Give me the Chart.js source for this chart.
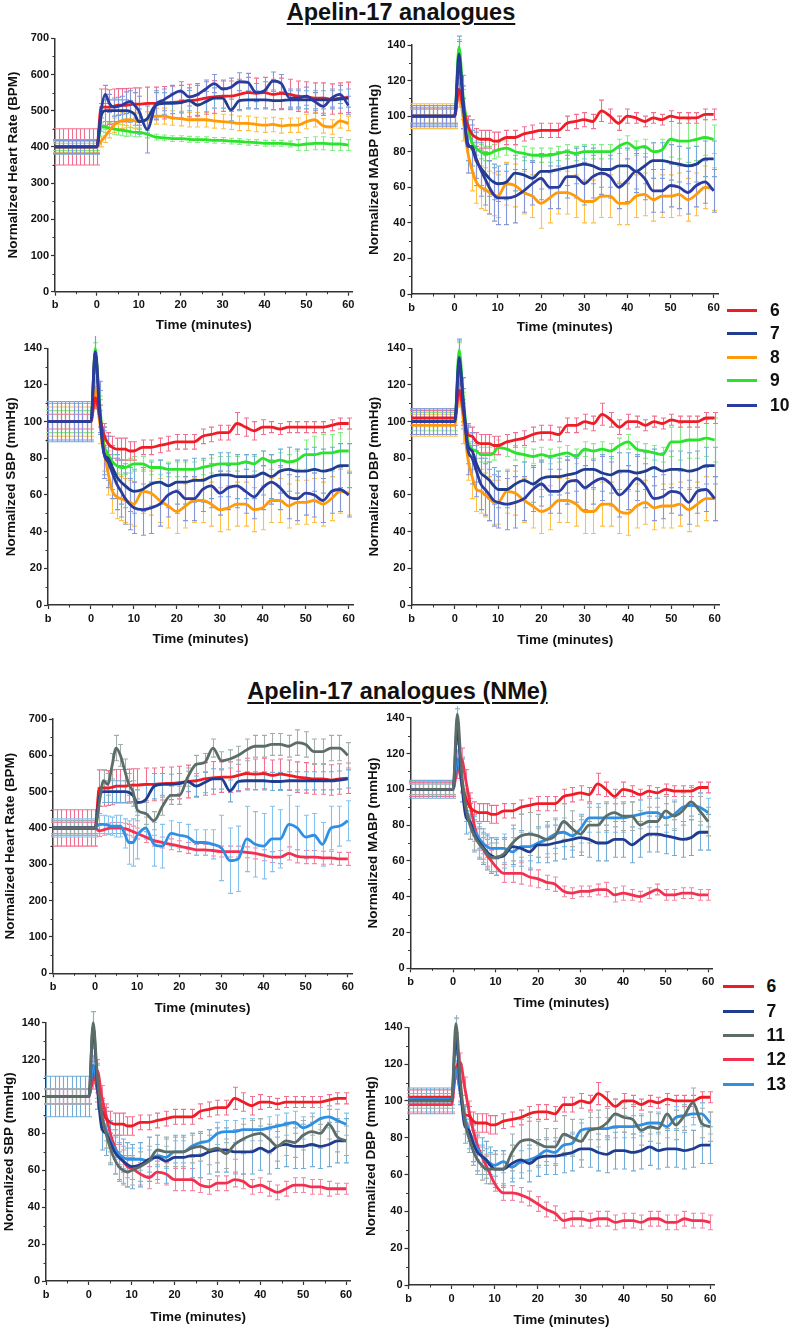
<!DOCTYPE html>
<html>
<head>
<meta charset="utf-8">
<script src="https://cdn.jsdelivr.net/npm/chart.js@4.4.1/dist/chart.umd.min.js"></script>
<style>
  body { margin: 0; background: #fff; }
  #wrap { position: relative; width: 792px; height: 1327px; overflow: hidden; font-family: 'Liberation Sans', Arial, sans-serif; color: #111; }
  canvas { position: absolute; }
  .ttl { position: absolute; font-weight: bold; font-size: 23.5px; line-height: 23.5px; white-space: nowrap;
         text-decoration: underline; text-decoration-thickness: 2px; text-underline-offset: 3px; transform: translateX(-50%); }
  .lg { position: absolute; height: 24px; display: flex; align-items: center; font-weight: bold; font-size: 17.5px; }
  .lg span.sw { display: inline-block; height: 3px; }
</style>
</head>
<body>
<div id="wrap">
  <div class="ttl" style="left:401px; top:0.5px;">Apelin-17 analogues</div>
  <div class="ttl" style="left:397.5px; top:679.5px;">Apelin-17 analogues (NMe)</div>
</div>
<script>
// time points (minutes); -10 is the baseline "b"
var T = [-10, 0, 1, 2, 3, 4, 5, 6, 7, 8, 9, 10,
  12, 14, 16, 18, 20, 22, 24, 26, 28, 30,
  32, 34, 36, 38, 40, 42, 44, 46, 48, 50,
  52, 54, 56, 58, 60];
var baseTimes = [-10, -9, -8, -7, -6, -5, -4, -3, -2, -1];
var xTicks = [-10, 0, 10, 20, 30, 40, 50, 60];
var hrTicks = [0, 100, 200, 300, 400, 500, 600, 700];
var bpTicks = [0, 20, 40, 60, 80, 100, 120, 140];

var legend1 = ['6', '7', '8', '9', '10'];
var legend2 = ['6', '7', '11', '12', '13'];

// ---- Heart rate (BPM) ----
var hr6 = [400, 400, 510, 510, 510, 512, 515, 515, 515, 517, 518, 518,
  520, 520, 522, 523, 525, 528, 530, 535, 538, 540,
  540, 545, 550, 548, 550, 545, 548, 545, 540, 538,
  535, 535, 532, 535, 537];
var hr6e = [50, 50, 50, 50, 48, 48, 46, 46, 46, 45, 45, 45,
  45, 45, 45, 45, 45, 45, 45, 45, 45, 42,
  42, 42, 42, 42, 42, 42, 42, 42, 42, 42,
  42, 42, 42, 42, 42];
var hr7 = [400, 400, 485, 500, 500, 500, 500, 500, 500, 498, 490, 470,
  478, 515, 520, 520, 522, 528, 515, 525, 535, 535,
  502, 528, 530, 530, 530, 528, 528, 530, 530, 530,
  530, 530, 530, 532, 535];
var hr7e = [20, 20, 25, 30, 30, 30, 30, 30, 30, 30, 30, 35,
  40, 35, 30, 28, 28, 28, 28, 28, 28, 28,
  30, 28, 25, 25, 25, 25, 25, 25, 25, 25,
  25, 25, 25, 25, 25];
var hr8 = [400, 400, 415, 430, 445, 460, 468, 473, 475, 475, 472, 470,
  475, 485, 485, 480, 478, 475, 475, 475, 472, 470,
  468, 465, 465, 462, 460, 462, 458, 460, 460, 470,
  475, 458, 455, 472, 465];
var hr8e = [15, 15, 15, 18, 20, 20, 20, 22, 22, 22, 22, 22,
  22, 22, 22, 20, 20, 20, 20, 20, 20, 20,
  20, 20, 20, 20, 20, 20, 20, 20, 20, 20,
  20, 20, 20, 20, 20];
var hr9 = [400, 400, 455, 455, 452, 450, 448, 446, 444, 442, 440, 440,
  435, 427, 425, 423, 423, 421, 420, 420, 418, 418,
  416, 415, 413, 412, 410, 410, 410, 408, 405, 408,
  410, 410, 408, 408, 405];
var hr9e = [10, 10, 12, 15, 15, 15, 15, 15, 15, 12, 12, 12,
  10, 8, 8, 8, 8, 8, 8, 8, 8, 8,
  8, 8, 8, 8, 8, 8, 8, 8, 15, 18,
  18, 18, 18, 18, 15];
var hr10 = [400, 400, 500, 545, 520, 510, 512, 515, 522, 525, 515, 500,
  448, 515, 530, 545, 555, 538, 545, 560, 575, 560,
  565, 580, 578, 550, 555, 582, 575, 535, 535, 540,
  525, 512, 535, 545, 515];
var hr10e = [18, 18, 20, 25, 25, 25, 25, 25, 30, 30, 35, 40,
  65, 40, 30, 25, 25, 25, 25, 25, 25, 25,
  25, 25, 25, 25, 25, 25, 25, 25, 25, 25,
  25, 25, 25, 25, 25];
var hr11 = [400, 400, 470, 530, 520, 570, 620, 600, 560, 520, 500, 450,
  440, 420, 460, 490, 490, 540, 575, 580, 620, 585,
  590, 600, 615, 625, 625, 630, 630, 625, 635, 630,
  610, 610, 620, 620, 600];
var hr11e = [20, 20, 30, 30, 30, 35, 35, 30, 30, 30, 30, 30,
  30, 25, 25, 25, 25, 25, 25, 25, 25, 25,
  25, 25, 30, 30, 30, 30, 30, 30, 35, 35,
  35, 35, 35, 35, 35];
var hr12 = [400, 400, 392, 395, 398, 400, 400, 400, 398, 395, 390, 385,
  375, 365, 360, 355, 350, 345, 340, 340, 338, 335,
  335, 335, 333, 330, 325, 320, 320, 330, 322, 320,
  320, 318, 318, 315, 315];
var hr12e = [15, 15, 15, 15, 15, 15, 15, 15, 15, 15, 15, 15,
  15, 15, 15, 15, 15, 15, 15, 15, 15, 15,
  15, 15, 15, 15, 15, 15, 18, 18, 18, 18,
  18, 18, 18, 18, 18];
var hr13 = [400, 400, 410, 410, 408, 405, 405, 405, 385, 360, 360, 380,
  400, 355, 350, 385, 380, 375, 360, 360, 355, 345,
  310, 315, 370, 355, 350, 370, 370, 410, 400, 375,
  380, 355, 400, 405, 420];
var hr13e = [25, 25, 25, 25, 25, 25, 30, 30, 40, 60, 65, 65,
  30, 60, 60, 35, 35, 35, 35, 35, 40, 90,
  90, 90, 90, 90, 90, 90, 80, 80, 60, 60,
  60, 60, 60, 55, 55];

// ---- MABP (mmHg) ----
var m6 = [100, 100, 115, 104, 95, 90, 88, 87, 87, 87, 86, 86,
  88, 88, 90, 91, 92, 92, 92, 96, 97, 98,
  97, 103, 100, 96, 100, 99, 97, 99, 98, 100,
  99, 99, 99, 101, 101];
var m6e = [4, 4, 6, 6, 5, 5, 5, 5, 5, 5, 5, 5,
  4, 4, 4, 4, 4, 4, 4, 4, 4, 4,
  4, 6, 4, 4, 4, 3, 3, 3, 3, 3,
  3, 3, 3, 3, 3];
var m7 = [100, 100, 135, 105, 85, 82, 75, 71, 68, 65, 63, 62,
  63, 68, 67, 65, 69, 69, 70, 71, 72, 73,
  72, 70, 70, 72, 72, 69, 72, 75, 75, 74,
  73, 72, 73, 76, 76];
var m7e = [5, 5, 10, 12, 10, 10, 10, 10, 10, 10, 10, 10,
  10, 10, 10, 10, 10, 10, 10, 10, 10, 10,
  10, 10, 10, 10, 10, 10, 10, 10, 10, 10,
  10, 10, 10, 10, 10];
var m8 = [100, 100, 115, 98, 80, 70, 63, 60, 59, 57, 56, 55,
  62, 61, 57, 55, 51, 54, 57, 57, 55, 52,
  52, 55, 55, 51, 51, 55, 56, 53, 55, 55,
  56, 53, 56, 60, 59];
var m8e = [7, 7, 10, 12, 12, 12, 12, 12, 12, 12, 12, 12,
  12, 12, 12, 12, 14, 14, 12, 12, 12, 12,
  12, 12, 12, 12, 12, 12, 12, 12, 12, 12,
  12, 12, 12, 12, 12];
var m9 = [100, 100, 139, 110, 95, 85, 82, 80, 79, 79, 80, 81,
  82, 80, 79, 78, 78, 78, 79, 80, 79, 80,
  80, 80, 80, 83, 85, 82, 83, 80, 81, 87,
  86, 86, 87, 88, 87];
var m9e = [4, 4, 4, 5, 5, 4, 4, 4, 4, 4, 4, 4,
  4, 4, 4, 4, 4, 4, 4, 4, 4, 4,
  4, 4, 4, 4, 4, 4, 4, 5, 6, 10,
  10, 12, 12, 10, 8];
var m10 = [100, 100, 130, 108, 83, 83, 76, 70, 65, 60, 56, 54,
  54, 55, 58, 62, 65, 60, 60, 66, 66, 62,
  66, 68, 66, 60, 64, 69, 65, 58, 58, 61,
  60, 57, 61, 63, 58];
var m10e = [6, 6, 12, 15, 15, 15, 15, 15, 15, 15, 15, 15,
  15, 15, 12, 12, 12, 12, 12, 12, 12, 12,
  12, 12, 12, 12, 12, 12, 12, 12, 12, 12,
  12, 12, 12, 12, 12];
var m11 = [100, 100, 142, 110, 90, 80, 74, 70, 67, 64, 62, 62,
  64, 70, 74, 75, 74, 72, 74, 82, 78, 75,
  80, 80, 85, 87, 85, 85, 80, 82, 82, 88,
  85, 88, 93, 88, 82];
var m11e = [3, 3, 5, 8, 8, 8, 8, 8, 8, 8, 8, 8,
  8, 10, 12, 12, 12, 10, 10, 10, 10, 10,
  10, 10, 8, 8, 8, 8, 8, 8, 8, 8,
  8, 8, 8, 8, 8];
var m12 = [100, 100, 112, 117, 105, 92, 80, 72, 67, 63, 60, 57,
  53, 53, 53, 51, 50, 48, 47, 43, 42, 43,
  43, 44, 44, 41, 42, 41, 40, 42, 44, 41,
  41, 42, 42, 41, 41];
var m12e = [4, 4, 6, 6, 6, 6, 6, 6, 6, 6, 6, 5,
  5, 5, 6, 5, 5, 4, 4, 3, 3, 3,
  3, 3, 4, 4, 4, 3, 3, 3, 3, 3,
  3, 3, 3, 3, 3];
var m13 = [100, 100, 117, 105, 90, 82, 77, 73, 70, 68, 67, 67,
  67, 65, 68, 68, 70, 72, 75, 76, 74, 78,
  84, 84, 84, 84, 84, 85, 86, 87, 87, 84,
  86, 90, 91, 90, 87];
var m13e = [3, 3, 5, 6, 6, 6, 6, 6, 6, 6, 6, 6,
  8, 8, 8, 8, 8, 8, 8, 8, 8, 8,
  8, 8, 8, 8, 8, 8, 8, 8, 8, 8,
  8, 8, 8, 8, 8];

// ---- SBP (mmHg) ----
var s6 = [100, 100, 113, 103, 93, 88, 86, 85, 85, 85, 84, 84,
  86, 86, 87, 88, 89, 89, 89, 92, 93, 94,
  94, 99, 97, 95, 97, 97, 96, 97, 97, 97,
  97, 97, 98, 99, 99];
var s6e = [4, 4, 6, 6, 6, 6, 6, 6, 6, 6, 5, 5,
  4, 4, 4, 4, 4, 4, 4, 4, 4, 4,
  4, 6, 5, 5, 4, 3, 3, 3, 3, 3,
  3, 3, 3, 3, 3];
var s7 = [100, 100, 138, 105, 83, 80, 75, 70, 67, 65, 63, 62,
  63, 66, 67, 65, 67, 67, 68, 68, 70, 71,
  71, 70, 70, 70, 72, 70, 73, 74, 73, 73,
  74, 73, 74, 76, 76];
var s7e = [11, 11, 12, 12, 12, 12, 12, 12, 12, 12, 12, 12,
  12, 12, 12, 12, 12, 12, 12, 12, 12, 12,
  12, 12, 12, 12, 12, 12, 12, 12, 12, 12,
  12, 12, 12, 12, 12];
var s8 = [100, 100, 118, 100, 85, 72, 62, 59, 58, 57, 56, 55,
  62, 61, 57, 54, 51, 54, 57, 57, 55, 52,
  53, 55, 55, 52, 53, 57, 57, 54, 56, 56,
  57, 55, 58, 62, 61];
var s8e = [8, 8, 10, 12, 12, 12, 12, 12, 12, 12, 12, 12,
  12, 12, 12, 12, 12, 12, 12, 12, 12, 12,
  12, 12, 12, 12, 12, 12, 12, 12, 12, 12,
  12, 12, 12, 12, 12];
var s9 = [100, 100, 140, 110, 88, 82, 78, 76, 75, 75, 76, 77,
  77, 75, 75, 74, 74, 74, 74, 75, 76, 77,
  77, 77, 78, 77, 80, 78, 79, 78, 79, 82,
  82, 83, 83, 84, 84];
var s9e = [6, 6, 3, 4, 4, 4, 4, 4, 4, 4, 4, 4,
  4, 4, 4, 4, 4, 4, 4, 4, 4, 4,
  4, 4, 4, 4, 4, 4, 4, 4, 5, 8,
  10, 10, 10, 10, 12];
var s10 = [100, 100, 138, 108, 83, 78, 72, 66, 62, 58, 55, 53,
  52, 53, 55, 60, 62, 58, 58, 63, 65, 61,
  64, 65, 62, 59, 64, 67, 64, 59, 58, 61,
  60, 57, 62, 63, 60];
var s10e = [10, 10, 12, 14, 14, 14, 14, 14, 14, 14, 14, 14,
  14, 14, 12, 12, 12, 12, 12, 12, 12, 12,
  12, 12, 12, 12, 12, 12, 12, 12, 12, 12,
  12, 12, 12, 12, 12];
var s11 = [100, 100, 140, 110, 90, 80, 72, 66, 62, 60, 59, 60,
  62, 65, 71, 70, 70, 70, 72, 73, 71, 72,
  69, 74, 77, 79, 80, 77, 73, 76, 75, 79,
  81, 80, 85, 78, 76];
var s11e = [4, 4, 6, 8, 8, 8, 8, 8, 8, 8, 8, 8,
  8, 8, 8, 8, 8, 8, 8, 8, 8, 8,
  8, 8, 8, 8, 8, 8, 8, 8, 8, 8,
  8, 8, 8, 8, 8];
var s12 = [100, 100, 110, 114, 100, 90, 80, 73, 68, 65, 62, 61,
  58, 56, 59, 58, 55, 55, 55, 52, 51, 53,
  53, 55, 54, 51, 52, 50, 48, 50, 52, 52,
  51, 51, 50, 50, 50];
var s12e = [4, 4, 6, 6, 6, 6, 6, 6, 6, 6, 6, 6,
  6, 6, 6, 6, 6, 6, 6, 4, 4, 4,
  4, 4, 4, 4, 4, 4, 4, 4, 4, 4,
  4, 4, 4, 3, 3];
var s13 = [100, 100, 117, 105, 90, 82, 76, 72, 69, 67, 66, 66,
  66, 65, 68, 67, 70, 70, 73, 75, 76, 80,
  81, 81, 82, 82, 82, 83, 84, 85, 86, 83,
  85, 88, 89, 87, 85];
var s13e = [4, 4, 5, 6, 6, 6, 6, 6, 6, 6, 6, 6,
  6, 6, 6, 6, 6, 6, 6, 6, 6, 6,
  6, 6, 6, 6, 6, 6, 6, 6, 6, 6,
  6, 6, 6, 6, 6];

// ---- DBP (mmHg) ----
var d6 = [102, 102, 117, 105, 93, 92, 89, 88, 88, 88, 87, 87,
  89, 90, 91, 93, 94, 94, 93, 98, 98, 100,
  99, 104, 101, 97, 100, 100, 98, 100, 99, 101,
  100, 100, 100, 102, 102];
var d6e = [4, 4, 5, 5, 5, 5, 5, 5, 5, 5, 5, 5,
  4, 4, 4, 4, 4, 4, 4, 4, 4, 4,
  4, 6, 4, 4, 4, 3, 3, 3, 3, 3,
  3, 3, 3, 3, 3];
var d7 = [100, 100, 135, 108, 87, 84, 77, 72, 70, 68, 65, 63,
  63, 66, 68, 66, 69, 70, 70, 71, 72, 74,
  74, 72, 71, 73, 73, 72, 73, 75, 73, 74,
  74, 73, 74, 76, 76];
var d7e = [7, 7, 10, 10, 10, 10, 10, 10, 10, 10, 10, 10,
  10, 10, 10, 10, 10, 10, 10, 10, 10, 10,
  10, 10, 10, 10, 10, 10, 10, 10, 10, 10,
  10, 10, 10, 10, 10];
var d8 = [98, 98, 118, 100, 80, 70, 63, 62, 60, 58, 56, 56,
  62, 61, 57, 54, 51, 53, 57, 57, 55, 51,
  51, 55, 55, 51, 50, 54, 56, 53, 54, 54,
  55, 52, 55, 58, 58];
var d8e = [6, 6, 10, 12, 12, 12, 12, 12, 12, 12, 12, 12,
  12, 12, 12, 12, 12, 12, 12, 12, 12, 12,
  12, 12, 12, 12, 12, 12, 12, 12, 12, 12,
  12, 12, 12, 12, 12];
var d9 = [100, 100, 139, 112, 90, 85, 84, 82, 82, 82, 83, 86,
  85, 83, 82, 81, 82, 81, 82, 83, 81, 85,
  84, 85, 84, 87, 89, 85, 84, 83, 82, 89,
  89, 90, 90, 91, 90];
var d9e = [5, 5, 4, 4, 4, 4, 4, 4, 4, 4, 4, 4,
  4, 4, 4, 4, 4, 4, 4, 4, 4, 4,
  4, 4, 4, 4, 4, 4, 4, 4, 4, 8,
  10, 10, 10, 10, 12];
var d10 = [100, 100, 132, 110, 85, 80, 73, 66, 63, 60, 57, 56,
  55, 56, 58, 63, 66, 62, 62, 67, 68, 64,
  67, 69, 66, 60, 64, 69, 65, 58, 59, 62,
  61, 56, 62, 63, 58];
var d10e = [7, 7, 12, 14, 14, 14, 14, 14, 14, 14, 14, 14,
  14, 14, 12, 12, 12, 12, 12, 12, 12, 12,
  12, 12, 12, 12, 12, 12, 12, 12, 12, 12,
  12, 12, 12, 12, 12];
var d11 = [100, 100, 142, 112, 90, 80, 73, 68, 65, 63, 63, 63,
  63, 72, 78, 79, 77, 75, 75, 82, 80, 78,
  84, 85, 88, 93, 91, 90, 84, 86, 85, 93,
  87, 92, 99, 88, 86];
var d11e = [4, 4, 5, 8, 8, 8, 8, 8, 8, 8, 8, 8,
  8, 10, 12, 12, 12, 10, 10, 10, 10, 10,
  10, 10, 8, 8, 8, 8, 8, 8, 8, 8,
  8, 8, 8, 8, 8];
var d12 = [98, 98, 117, 121, 108, 95, 84, 76, 70, 65, 60, 55,
  50, 50, 49, 47, 44, 41, 39, 35, 36, 36,
  35, 36, 36, 34, 35, 35, 34, 36, 36, 34,
  34, 36, 35, 35, 34];
var d12e = [4, 4, 5, 5, 5, 5, 5, 5, 5, 5, 5, 4,
  4, 4, 4, 4, 4, 4, 4, 4, 4, 4,
  4, 4, 4, 4, 4, 4, 4, 4, 4, 4,
  4, 4, 4, 4, 4];
var d13 = [101, 101, 117, 105, 92, 84, 78, 74, 70, 68, 66, 65,
  67, 64, 67, 68, 70, 73, 72, 76, 77, 84,
  85, 85, 85, 86, 86, 86, 87, 88, 88, 86,
  91, 92, 93, 93, 88];
var d13e = [3, 3, 5, 6, 6, 6, 6, 6, 6, 6, 6, 6,
  6, 6, 6, 6, 6, 6, 6, 6, 6, 6,
  6, 6, 6, 6, 6, 6, 6, 6, 6, 6,
  6, 6, 6, 6, 6];

// line colour, error bar colour
var STYLE = {
  '6': ['#ee1c25', '#f2708f'],
  '7': ['#1f3c8e', '#74acd8'],
  '8': ['#ff9a0a', '#ffc04a'],
  '9': ['#2ae32a', '#86ec86'],
  '10': ['#2b3b9f', '#8796d6'],
  '11': ['#5c6d68', '#a4afab'],
  '12': ['#f3304f', '#f488a3'],
  '13': ['#2f8fe3', '#85c3ee']
};

// L/R/T/B = plot area in page pixels, tx/ty = axis title centres
var panels = [
  { L: 55, R: 352.5, T: 38.3, B: 291.7, tx: 13.3, ty: 325, max: 700, yt: hrTicks, title: 'Normalized Heart Rate (BPM)',
    series: [['10', hr10, hr10e], ['7', hr7, hr7e], ['6', hr6, hr6e], ['8', hr8, hr8e], ['9', hr9, hr9e]] },
  { L: 411.5, R: 718, T: 45, B: 294, tx: 374, ty: 326.7, max: 140, yt: bpTicks, title: 'Normalized MABP (mmHg)',
    series: [['10', m10, m10e], ['7', m7, m7e], ['6', m6, m6e], ['8', m8, m8e], ['9', m9, m9e]] },
  { L: 48, R: 353, T: 348.3, B: 605, tx: 10.7, ty: 639, max: 140, yt: bpTicks, title: 'Normalized SBP (mmHg)',
    series: [['10', s10, s10e], ['7', s7, s7e], ['6', s6, s6e], ['8', s8, s8e], ['9', s9, s9e]] },
  { L: 411.5, R: 719, T: 348.3, B: 605, tx: 374, ty: 640, max: 140, yt: bpTicks, title: 'Normalized DBP (mmHg)',
    series: [['10', d10, d10e], ['7', d7, d7e], ['6', d6, d6e], ['8', d8, d8e], ['9', d9, d9e]] },
  { L: 53, R: 352, T: 719, B: 973.3, tx: 10, ty: 1008, max: 700, yt: hrTicks, title: 'Normalized Heart Rate (BPM)',
    series: [['11', hr11, hr11e], ['7', hr7, hr7e], ['13', hr13, hr13e], ['6', hr6, hr6e], ['12', hr12, hr12e]] },
  { L: 410.5, R: 712.4, T: 717.7, B: 968.3, tx: 372.7, ty: 1002.7, max: 140, yt: bpTicks, title: 'Normalized MABP (mmHg)',
    series: [['11', m11, m11e], ['7', m7, m7e], ['13', m13, m13e], ['6', m6, m6e], ['12', m12, m12e]] },
  { L: 46, R: 350.3, T: 1022.7, B: 1281, tx: 9, ty: 1316.7, max: 140, yt: bpTicks, title: 'Normalized SBP (mmHg)',
    series: [['11', s11, s11e], ['7', s7, s7e], ['13', s13, s13e], ['6', s6, s6e], ['12', s12, s12e]] },
  { L: 408.5, R: 714.5, T: 1027.3, B: 1285, tx: 370.7, ty: 1320, max: 140, yt: bpTicks, title: 'Normalized DBP (mmHg)',
    series: [['11', d11, d11e], ['7', d7, d7e], ['13', d13, d13e], ['6', d6, d6e], ['12', d12, d12e]] }
];

var AXIS = '#333';
var TITLE_HALF = 13.5 * 1.2 / 2;

Chart.defaults.font.family = "'Liberation Sans', Arial, sans-serif";
Chart.defaults.color = '#111';

// vertical error bars with caps, drawn under the lines
var errorBars = {
  id: 'errorBars',
  beforeDatasetsDraw: function (chart) {
    var ctx = chart.ctx, xs = chart.scales.x, ys = chart.scales.y;
    ctx.save();
    ctx.lineWidth = 1.1;
    for (var k = chart.data.datasets.length - 1; k >= 0; k--) {
      var d = chart.data.datasets[k];
      ctx.strokeStyle = d.errColor;
      ctx.beginPath();
      d.data.forEach(function (p, i) {
        var top = ys.getPixelForValue(p.y + d.err[i]);
        var bot = ys.getPixelForValue(p.y - d.err[i]);
        var times = i === 0 ? baseTimes : [p.x];
        times.forEach(function (t) {
          var px = Math.round(xs.getPixelForValue(t)) + 0.5;
          ctx.moveTo(px, top); ctx.lineTo(px, bot);
          ctx.moveTo(px - 2.5, top); ctx.lineTo(px + 2.5, top);
          ctx.moveTo(px - 2.5, bot); ctx.lineTo(px + 2.5, bot);
        });
      });
      ctx.stroke();
    }
    ctx.restore();
  }
};

// small ticks half way between the labelled ones
var minorTicks = {
  id: 'minorTicks',
  afterDraw: function (chart) {
    var ctx = chart.ctx, a = chart.chartArea, xs = chart.scales.x, ys = chart.scales.y;
    ctx.save();
    ctx.strokeStyle = AXIS;
    ctx.lineWidth = 1;
    ctx.beginPath();
    for (var i = 0; i < xs.ticks.length - 1; i++) {
      var px = Math.round(xs.getPixelForValue((xs.ticks[i].value + xs.ticks[i + 1].value) / 2)) + 0.5;
      ctx.moveTo(px, a.bottom); ctx.lineTo(px, a.bottom + 2.5);
    }
    for (var j = 0; j < ys.ticks.length - 1; j++) {
      var py = Math.round(ys.getPixelForValue((ys.ticks[j].value + ys.ticks[j + 1].value) / 2)) + 0.5;
      ctx.moveTo(a.left, py); ctx.lineTo(a.left - 2.5, py);
    }
    ctx.stroke();
    ctx.restore();
  }
};

function makeDataset(s) {
  var name = s[0], vals = s[1], errs = s[2];
  return {
    label: name,
    data: T.map(function (t, i) { return { x: t, y: vals[i] }; }),
    err: errs,
    errColor: STYLE[name][1],
    borderColor: STYLE[name][0],
    borderWidth: 2.8,
    pointRadius: 0,
    cubicInterpolationMode: 'monotone',
    fill: false,
    clip: 10
  };
}

var wrap = document.getElementById('wrap');

panels.forEach(function (p) {
  var left = Math.round(p.L - (p.L + TITLE_HALF - p.tx));
  var yw = p.L - left;
  var top = Math.round(p.T - 12);
  var pt = p.T - top;
  var w = Math.round(p.R - left + 10);
  var pr = w - (p.R - left);
  var h = Math.round(p.ty + TITLE_HALF - top);
  var xh = top + h - p.B;

  var cv = document.createElement('canvas');
  cv.width = w; cv.height = h;
  cv.style.left = left + 'px';
  cv.style.top = top + 'px';
  wrap.appendChild(cv);

  new Chart(cv.getContext('2d'), {
    type: 'line',
    data: { datasets: p.series.map(makeDataset) },
    options: {
      responsive: false,
      animation: false,
      events: [],
      layout: { padding: { top: pt, right: pr, left: 0, bottom: 0 } },
      plugins: { legend: { display: false }, tooltip: { enabled: false } },
      scales: {
        x: {
          type: 'linear', min: -10, max: 61,
          afterBuildTicks: function (s) { s.ticks = xTicks.map(function (v) { return { value: v }; }); },
          afterFit: function (s) { s.height = xh; },
          ticks: {
            autoSkip: false, maxRotation: 0, padding: 3,
            font: { weight: 'bold', size: 11 }, color: '#111',
            callback: function (v) { return v === -10 ? 'b' : v; }
          },
          grid: { drawOnChartArea: false, tickLength: 4, tickColor: AXIS, tickWidth: 1.2 },
          border: { color: AXIS, width: 1.5 },
          title: { display: true, text: 'Time (minutes)', padding: 0, color: '#111', font: { weight: 'bold', size: 13.5 } }
        },
        y: {
          min: 0, max: p.max,
          afterBuildTicks: function (s) { s.ticks = p.yt.map(function (v) { return { value: v }; }); },
          afterFit: function (s) { s.width = yw; },
          ticks: { padding: 2, font: { weight: 'bold', size: 11 }, color: '#111' },
          grid: { drawOnChartArea: false, tickLength: 4, tickColor: AXIS, tickWidth: 1.2 },
          border: { color: AXIS, width: 1.5 },
          title: { display: true, text: p.title, padding: 0, color: '#111', font: { weight: 'bold', size: 13.5 } }
        }
      }
    },
    plugins: [errorBars, minorTicks]
  });
});

// legends
function addLegend(names, rows, x1, x2, tx) {
  names.forEach(function (n, i) {
    var row = document.createElement('div');
    row.className = 'lg';
    row.style.left = x1 + 'px';
    row.style.top = (rows[i] - 12) + 'px';
    var sw = document.createElement('span');
    sw.className = 'sw';
    sw.style.width = (x2 - x1) + 'px';
    sw.style.background = STYLE[n][0];
    sw.style.marginRight = (tx - x2) + 'px';
    var lab = document.createElement('span');
    lab.textContent = n;
    row.appendChild(sw);
    row.appendChild(lab);
    wrap.appendChild(row);
  });
}
addLegend(legend1, [310, 333, 357.5, 380, 405], 727, 757, 770);
addLegend(legend2, [986.7, 1011.7, 1035.7, 1059, 1084], 723, 754, 766.5);
</script>
</body>
</html>
